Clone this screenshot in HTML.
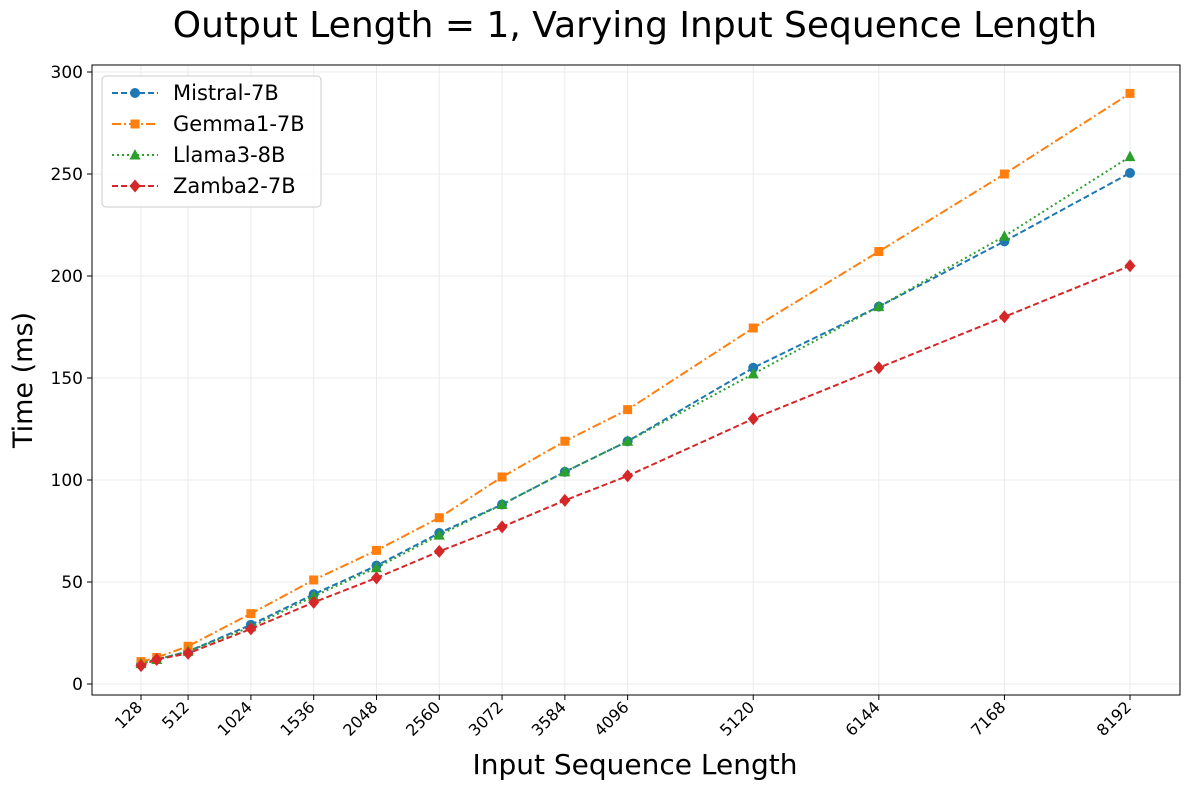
<!DOCTYPE html>
<html><head><meta charset="utf-8"><style>
body{margin:0;background:#fff;}
svg text{font-family:"DejaVu Sans","Liberation Sans",sans-serif;}
</style></head><body>
<svg id="s" width="1189" height="790" xmlns="http://www.w3.org/2000/svg">
<rect width="1189" height="790" fill="#fff"/>
<text x="635" y="37" font-size="36" text-anchor="middle">Output Length = 1, Varying Input Sequence Length</text>
<g id="grid"></g>
<rect x="92" y="65" width="1088" height="630" fill="none" stroke="#000" stroke-width="1"/>
<g id="ticks"></g>
<g id="series"></g>
<text x="635" y="774" font-size="28" text-anchor="middle">Input Sequence Length</text>
<text transform="translate(32,380) rotate(-90)" font-size="27" text-anchor="middle">Time (ms)</text>
<g id="legend"></g>
</svg>
<script>
const NS="http://www.w3.org/2000/svg";
function el(p,t,a,txt){const e=document.createElementNS(NS,t);for(const k in a)e.setAttribute(k,a[k]);if(txt!==undefined)e.textContent=txt;p.appendChild(e);return e;}
const X=v=>141+(v-128)*(989/8064), Y=v=>684-v*2.04;
const grid=document.getElementById('grid'),ticks=document.getElementById('ticks');
const xs=[128,512,1024,1536,2048,2560,3072,3584,4096,5120,6144,7168,8192];
xs.forEach(v=>{const x=X(v);el(grid,'line',{x1:x,x2:x,y1:65,y2:695,stroke:'#ebebeb','stroke-width':1});
el(ticks,'line',{x1:x,x2:x,y1:695,y2:700,stroke:'#000'});
el(ticks,'text',{transform:`translate(${x-6},${700}) rotate(-45)`,'font-size':16,'text-anchor':'end',dy:'0.72em'},v);});
[0,50,100,150,200,250,300].forEach(v=>{const y=Y(v);el(grid,'line',{x1:92,x2:1180,y1:y,y2:y,stroke:'#ebebeb'});
el(ticks,'line',{x1:87,x2:92,y1:y,y2:y,stroke:'#000'});
el(ticks,'text',{x:83,y:y+6,'font-size':17,'text-anchor':'end'},v);});
const px=[128,256,512,1024,1536,2048,2560,3072,3584,4096,5120,6144,7168,8192];
const S=[
{n:'Mistral-7B',c:'#1f77b4',d:'6,3',m:'o',v:[10,12,16,29,44,58,74,88,104,119,155,185,217,250.5]},
{n:'Gemma1-7B',c:'#ff7f0e',d:'9,3,2,3',m:'s',v:[11,13,18.5,34.5,51,65.5,81.5,101.5,119,134.5,174.5,212,250,289.5]},
{n:'Llama3-8B',c:'#2ca02c',d:'2,3',m:'^',v:[10,12,16,28,43,57,73,88,104,119,152,185,219.5,258.5]},
{n:'Zamba2-7B',c:'#d62728',d:'6,3',m:'D',v:[9,12,15,27,40,52,65,77,90,102,130,155,180,205]}];
function mk(g,m,x,y,c){if(m=='o')el(g,'circle',{cx:x,cy:y,r:5,fill:c});
else if(m=='s')el(g,'rect',{x:x-4.5,y:y-4.5,width:9,height:9,fill:c});
else if(m=='^')el(g,'polygon',{points:`${x},${y-6} ${x-5.5},${y+4.5} ${x+5.5},${y+4.5}`,fill:c});
else el(g,'polygon',{points:`${x},${y-6.5} ${x+5.5},${y} ${x},${y+6.5} ${x-5.5},${y}`,fill:c});}
const sg=document.getElementById('series');
S.forEach(s=>{el(sg,'polyline',{points:px.map((p,i)=>X(p)+','+Y(s.v[i])).join(' '),fill:'none',stroke:s.c,'stroke-width':2,'stroke-dasharray':s.d});
px.forEach((p,i)=>mk(sg,s.m,X(p),Y(s.v[i]),s.c));});
const lg=document.getElementById('legend');
el(lg,'rect',{x:102,y:76,width:219,height:131,rx:4,fill:'#fff','fill-opacity':0.85,stroke:'#ccc'});
S.forEach((s,i)=>{const y=93+i*31;el(lg,'line',{x1:112,x2:158,y1:y,y2:y,stroke:s.c,'stroke-width':2,'stroke-dasharray':s.d});
mk(lg,s.m,135,y,s.c);el(lg,'text',{x:173,y:y+7,'font-size':21},s.n);});
</script>
</body></html>
